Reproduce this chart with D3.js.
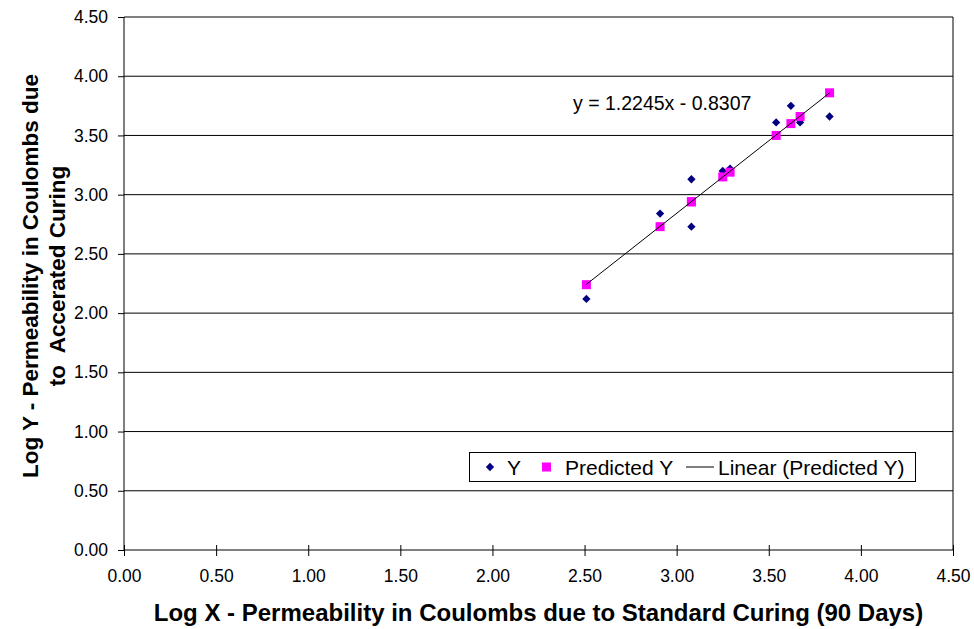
<!DOCTYPE html>
<html><head><meta charset="utf-8">
<script src="https://cdn.jsdelivr.net/npm/d3@7"></script>
<style>body{margin:0;background:#fff}svg{display:block}</style>
</head><body>
<svg id="c" width="974" height="629"></svg>
<script>
// ---- data ----
const xValues    = [2.51, 2.91, 3.08, 3.08, 3.25, 3.29, 3.54, 3.62, 3.67, 3.83];
const yValues    = [2.12, 2.84, 3.13, 2.73, 3.20, 3.22, 3.61, 3.75, 3.61, 3.66];
const predictedY = [2.24, 2.73, 2.94, 2.94, 3.15, 3.19, 3.50, 3.60, 3.66, 3.86];
const trendSlope = 1.2245, trendIntercept = -0.8307;
const xTicks = [0, 0.5, 1, 1.5, 2, 2.5, 3, 3.5, 4, 4.5];
const yTicks = [0, 0.5, 1, 1.5, 2, 2.5, 3, 3.5, 4, 4.5];
const equationLabel = "y = 1.2245x - 0.8307";
const legendLabels = ["Y", "Predicted Y", "Linear (Predicted Y)"];
const xTitle = "Log X - Permeability in Coulombs due to Standard Curing (90 Days)";
const yTitleLines = ["Log Y - Permeability in Coulombs due", "to\u00a0 Accerated Curing"];

// ---- layout ----
const FONT = "'Liberation Sans', Arial, sans-serif";
const L = 124, R = 953, T = 17, B = 550;
const svg = d3.select("#c");
const x = d3.scaleLinear().domain([0, 4.5]).range([L, R]);
const y = d3.scaleLinear().domain([0, 4.5]).range([B, T]);
const fmt = d3.format(".2f");

// gridlines
svg.append("g").selectAll("line").data(yTicks.filter(d => d > 0)).join("line")
  .attr("x1", L).attr("x2", R).attr("y1", d => y(d)).attr("y2", d => y(d))
  .attr("stroke", "#000").attr("stroke-width", 1);

// plot border (right side)
svg.append("line").attr("x1", R).attr("x2", R).attr("y1", T).attr("y2", B)
  .attr("stroke", "#000");

// y axis
const yAxis = svg.append("g").attr("transform", `translate(${L},0)`)
  .call(d3.axisLeft(y).tickValues(yTicks).tickFormat(fmt).tickSize(6).tickPadding(10));
yAxis.select(".domain").attr("stroke", "#000").attr("d", `M0,${T}V${B}`);
yAxis.selectAll("text").attr("font-family", FONT).attr("font-size", 17.5).attr("fill", "#000");

// x axis (ticks cross the axis)
const xAxis = svg.append("g").attr("transform", `translate(0,${B})`)
  .call(d3.axisBottom(x).tickValues(xTicks).tickFormat(fmt).tickSize(6).tickPadding(14));
xAxis.select(".domain").attr("stroke", "#000").attr("d", `M${L},0H${R}`);
xAxis.selectAll(".tick line").attr("y1", -5).attr("y2", 6);
xAxis.selectAll("text").attr("font-family", FONT).attr("font-size", 17.5).attr("fill", "#000");

// diamonds (Y)
const diamond = d3.symbol().type(d3.symbolDiamond2).size(44);
const pts = xValues.map((xv, i) => ({x: xv, y: yValues[i], p: predictedY[i]}));
svg.append("g").selectAll("path").data(pts).join("path")
  .attr("d", diamond)
  .attr("transform", d => `translate(${x(d.x)},${y(d.y)})`)
  .attr("fill", "#000080");

// squares (Predicted Y)
const sq = 9;
svg.append("g").selectAll("rect").data(pts).join("rect")
  .attr("x", d => x(d.x) - sq / 2).attr("y", d => y(d.p) - sq / 2)
  .attr("width", sq).attr("height", sq).attr("fill", "#ff00ff");

// linear trendline of Predicted Y
const xMin = d3.min(xValues), xMax = d3.max(xValues);
svg.append("line")
  .attr("x1", x(xMin)).attr("y1", y(trendSlope * xMin + trendIntercept))
  .attr("x2", x(xMax)).attr("y2", y(trendSlope * xMax + trendIntercept))
  .attr("stroke", "#000").attr("stroke-width", 1);

// equation label
svg.append("text").attr("x", 573).attr("y", 110)
  .attr("font-family", FONT).attr("font-size", 19.5).attr("fill", "#000")
  .text(equationLabel);

// legend
const lg = svg.append("g");
lg.append("rect").attr("x", 469.5).attr("y", 452.5).attr("width", 446).attr("height", 29)
  .attr("fill", "#fff").attr("stroke", "#000");
lg.append("path").attr("d", diamond).attr("transform", "translate(490,467)").attr("fill", "#000080");
lg.append("rect").attr("x", 542).attr("y", 462.5).attr("width", sq).attr("height", sq).attr("fill", "#ff00ff");
lg.append("line").attr("x1", 686).attr("x2", 714).attr("y1", 467).attr("y2", 467).attr("stroke", "#000");
const legX = [507, 565, 718];
lg.selectAll("text").data(legendLabels).join("text")
  .attr("x", (d, i) => legX[i]).attr("y", 474.5)
  .attr("font-family", FONT).attr("font-size", 21).attr("fill", "#000")
  .text(d => d);

// axis titles
svg.append("text").attr("x", (L + R) / 2).attr("y", 621).attr("text-anchor", "middle")
  .attr("font-family", FONT).attr("font-size", 24).attr("font-weight", "bold").attr("fill", "#000")
  .text(xTitle);
const yt = svg.append("text").attr("transform", "translate(0,276) rotate(-90)")
  .attr("text-anchor", "middle").attr("font-family", FONT).attr("font-size", 22.5)
  .attr("font-weight", "bold").attr("fill", "#000");
yt.selectAll("tspan").data(yTitleLines).join("tspan")
  .attr("x", 0).attr("y", (d, i) => 38 + i * 27).text(d => d);
</script>
</body></html>
